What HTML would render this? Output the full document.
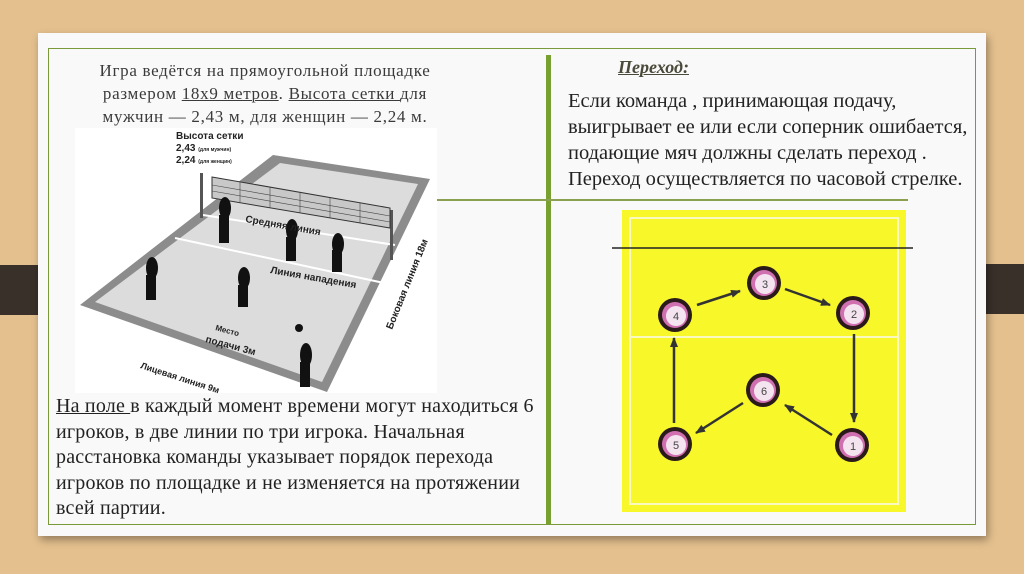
<!DOCTYPE html>
<html><head><meta charset="utf-8"><style>
*{margin:0;padding:0}
body{width:1024px;height:574px;overflow:hidden;background:#e4c08e;position:relative;font-family:"Liberation Serif",serif;color:#333}
.paper{position:absolute;left:38px;top:33px;width:948px;height:503px;background:#f9f9f9;box-shadow:2px 4px 8px rgba(0,0,0,.35)}
.frame{position:absolute;left:48px;top:48px;width:926px;height:475px;border:1.5px solid #7a9a3a}
.bar{position:absolute;background:#3a302a;height:50px}
.t{position:absolute;white-space:nowrap}
u{text-decoration-thickness:1px}
</style></head><body>
<div class="bar" style="left:0;top:265px;width:62px"></div>
<div class="bar" style="left:963px;top:264px;width:61px"></div>
<div class="paper"></div>
<div class="frame"></div>
<div style="position:absolute;left:546px;top:55px;width:5px;height:469px;background:#77a030"></div>
<div style="position:absolute;left:435px;top:199px;width:473px;height:1.5px;background:#8aa050"></div>

<div class="t" style="left:60px;width:410px;top:59px;text-align:center;font-size:17px;letter-spacing:0.7px;line-height:23px;color:#3a3a3a">Игра ведётся на прямоугольной площадке<br>размером <u>18х9 метров</u>. <u>Высота сетки </u>для<br>мужчин — 2,43 м, для женщин — 2,24 м.</div>

<div class="t" style="left:618px;top:57px;font-size:18px;font-weight:bold;font-style:italic;color:#4a4a3a"><u>Переход:</u></div>
<div class="t" style="left:568px;top:88px;font-size:20.5px;line-height:26px;color:#222">Если команда , принимающая подачу,<br>выигрывает ее или если соперник ошибается,<br>подающие мяч должны сделать переход .<br>Переход осуществляется по часовой стрелке.</div>

<div class="t" style="left:56px;top:394px;font-size:20px;letter-spacing:0.2px;line-height:25.5px;color:#222"><u>На поле </u>в каждый момент времени могут находиться 6<br>игроков, в две линии по три игрока. Начальная<br>расстановка команды указывает порядок перехода<br>игроков по площадке и не изменяется на протяжении<br>всей партии.</div>

<svg style="position:absolute;left:0;top:0" width="1024" height="574">
<rect x="75" y="128" width="362" height="265" fill="#fff"/>
<polygon points="273,155 430,179 327,392 80,305" fill="#8c8c8c"/>
<polygon points="280,163 418,184 322,382 95,302" fill="#dcdcdc"/>
<line x1="203" y1="215" x2="395" y2="245" stroke="#fff" stroke-width="2"/>
<line x1="175" y1="238" x2="384" y2="283" stroke="#fff" stroke-width="2"/>
<rect x="200" y="173" width="3" height="45" fill="#555"/>
<rect x="390" y="210" width="3" height="50" fill="#555"/>
<polygon points="212,177 390,208 390,228 212,198" fill="#c8c8c8" stroke="#333" stroke-width="1"/>
<g stroke="#444" stroke-width="0.6">
<line x1="212" y1="185" x2="390" y2="216"/><line x1="212" y1="191" x2="390" y2="222"/>
<line x1="240" y1="182" x2="240" y2="203"/><line x1="270" y1="187" x2="270" y2="208"/><line x1="300" y1="192" x2="300" y2="213"/><line x1="330" y1="198" x2="330" y2="218"/><line x1="360" y1="203" x2="360" y2="223"/>
</g>
<g fill="#111">
<ellipse cx="225" cy="208" rx="6" ry="11"/><rect x="219" y="215" width="10" height="28"/>
<ellipse cx="292" cy="230" rx="6" ry="11"/><rect x="286" y="237" width="10" height="24"/>
<ellipse cx="338" cy="244" rx="6" ry="11"/><rect x="332" y="250" width="10" height="22"/>
<ellipse cx="152" cy="268" rx="6" ry="11"/><rect x="146" y="275" width="10" height="25"/>
<ellipse cx="244" cy="278" rx="6" ry="11"/><rect x="238" y="285" width="10" height="22"/>
<ellipse cx="306" cy="355" rx="6" ry="12"/><rect x="300" y="362" width="10" height="25"/>
<circle cx="299" cy="328" r="4"/>
</g>
<g font-family="Liberation Sans,sans-serif" font-weight="bold" fill="#222">
<text x="176" y="139" font-size="10">Высота сетки</text>
<text x="176" y="151" font-size="10">2,43 <tspan font-size="5">(для мужчин)</tspan></text>
<text x="176" y="163" font-size="10">2,24 <tspan font-size="5">(для женщин)</tspan></text>
<text x="245" y="222" font-size="10" transform="rotate(10 245 222)">Средняя линия</text>
<text x="270" y="273" font-size="10" transform="rotate(10 270 273)">Линия нападения</text>
<text x="215" y="330" font-size="8" transform="rotate(15 215 330)">Место</text>
<text x="205" y="342" font-size="10" transform="rotate(15 205 342)">подачи 3м</text>
<text x="140" y="368" font-size="9" transform="rotate(18 140 368)">Лицевая линия 9м</text>
<text x="392" y="330" font-size="10" transform="rotate(-68 392 330)">Боковая линия 18м</text>
</g>

<rect x="622" y="210" width="284" height="302" fill="#f7f72a"/>
<rect x="630" y="218" width="268" height="286" fill="none" stroke="#fafac0" stroke-width="2"/>
<line x1="630" y1="337" x2="898" y2="337" stroke="#fafac0" stroke-width="2"/>
<line x1="612" y1="248" x2="913" y2="248" stroke="#222" stroke-width="1.5"/>
<defs><marker id="a" markerWidth="10" markerHeight="8" refX="9" refY="4" orient="auto" markerUnits="userSpaceOnUse"><path d="M0,0 L10,4 L0,8z" fill="#333"/></marker></defs>
<g stroke="#333" stroke-width="2.5" marker-end="url(#a)">
<line x1="697" y1="305" x2="740" y2="291"/>
<line x1="785" y1="289" x2="830" y2="305"/>
<line x1="854" y1="334" x2="854" y2="422"/>
<line x1="832" y1="435" x2="785" y2="405"/>
<line x1="743" y1="403" x2="696" y2="433"/>
<line x1="674" y1="423" x2="674" y2="338"/>
</g>
<g font-family="Liberation Sans,sans-serif" font-size="11" text-anchor="middle" fill="#444">
<g><circle cx="675" cy="315" r="17" fill="#2a1a1a"/><circle cx="675" cy="315" r="13" fill="#d070b0"/><circle cx="676" cy="316" r="10" fill="#f4e4f0"/><text x="676" y="320">4</text></g>
<g><circle cx="764" cy="283" r="17" fill="#2a1a1a"/><circle cx="764" cy="283" r="13" fill="#d070b0"/><circle cx="765" cy="284" r="10" fill="#f4e4f0"/><text x="765" y="288">3</text></g>
<g><circle cx="853" cy="313" r="17" fill="#2a1a1a"/><circle cx="853" cy="313" r="13" fill="#d070b0"/><circle cx="854" cy="314" r="10" fill="#f4e4f0"/><text x="854" y="318">2</text></g>
<g><circle cx="763" cy="390" r="17" fill="#2a1a1a"/><circle cx="763" cy="390" r="13" fill="#d070b0"/><circle cx="764" cy="391" r="10" fill="#f4e4f0"/><text x="764" y="395">6</text></g>
<g><circle cx="675" cy="444" r="17" fill="#2a1a1a"/><circle cx="675" cy="444" r="13" fill="#d070b0"/><circle cx="676" cy="445" r="10" fill="#f4e4f0"/><text x="676" y="449">5</text></g>
<g><circle cx="852" cy="445" r="17" fill="#2a1a1a"/><circle cx="852" cy="445" r="13" fill="#d070b0"/><circle cx="853" cy="446" r="10" fill="#f4e4f0"/><text x="853" y="450">1</text></g>
</g>
</svg>
</body></html>
